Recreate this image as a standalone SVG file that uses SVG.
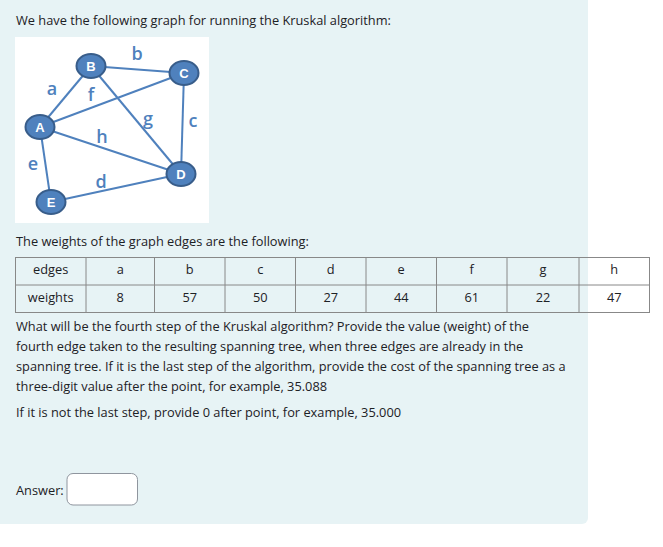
<svg xmlns="http://www.w3.org/2000/svg" width="663" height="547" viewBox="0 0 663 547">
<style>
.t{font-family:"Open Sans","Noto Sans",sans-serif;font-size:12.8px;fill:#1d2125}
.c{text-anchor:middle}
.e{stroke:#4f81bd;stroke-width:2;fill:none}
.n{fill:#4f81bd;stroke:#385d8a;stroke-width:2}
.nl{font-family:"Liberation Sans",sans-serif;font-weight:bold;font-size:13px;fill:#fff;text-anchor:middle}
.el{font-family:"Open Sans",sans-serif;font-weight:600;font-size:18px;fill:#4f81bd;text-anchor:middle}
.g{stroke:#888;stroke-width:1;fill:none}
</style>
<rect x="-8" y="-10" width="596" height="534" rx="6" fill="#e7f3f5"/>
<text class="t" x="16" y="25">We have the following graph for running the Kruskal algorithm:</text>
<rect x="15" y="37" width="194" height="186" fill="#fff"/>
<g id="connectors">
<line class="e" x1="40" y1="127" x2="91" y2="66"/>
<line class="e" x1="91" y1="66" x2="184" y2="73"/>
<line class="e" x1="184" y1="73" x2="181" y2="174"/>
<line class="e" x1="51" y1="202" x2="181" y2="174"/>
<line class="e" x1="40" y1="127" x2="51" y2="202"/>
<line class="e" x1="40" y1="127" x2="184" y2="73"/>
<line class="e" x1="91" y1="66" x2="181" y2="174"/>
<line class="e" x1="40" y1="127" x2="181" y2="174"/>
</g>
<g id="edge-labels">
<text class="el" x="137" y="60">b</text>
<text class="el" x="52" y="95">a</text>
<text class="el" x="91" y="101">f</text>
<text class="el" x="148" y="125">g</text>
<text class="el" x="193" y="127">c</text>
<text class="el" x="102" y="143">h</text>
<text class="el" x="33" y="170">e</text>
<text class="el" x="101" y="188">d</text>
</g>
<g id="node-B"><ellipse class="n" cx="91" cy="66" rx="14.5" ry="12"/><text class="nl" x="91" y="70.5">B</text></g>
<g id="node-C"><ellipse class="n" cx="184" cy="73" rx="14.5" ry="12"/><text class="nl" x="184" y="77.5">C</text></g>
<g id="node-A"><ellipse class="n" cx="40" cy="127" rx="14.5" ry="12"/><text class="nl" x="40" y="131.5">A</text></g>
<g id="node-D"><ellipse class="n" cx="181" cy="174" rx="14.5" ry="12"/><text class="nl" x="181" y="178.5">D</text></g>
<g id="node-E"><ellipse class="n" cx="51" cy="202" rx="14.5" ry="12"/><text class="nl" x="51" y="206.5">E</text></g>
<text class="t" x="16" y="246">The weights of the graph edges are the following:</text>
<g id="table">
<rect class="g" x="15.5" y="257.5" width="634" height="55"/>
<line class="g" x1="15.5" y1="285" x2="649.5" y2="285"/>
<path class="g" d="M86 257.5V312.5M154.5 257.5V312.5M225 257.5V312.5M295.5 257.5V312.5M366 257.5V312.5M436.5 257.5V312.5M507 257.5V312.5M579 257.5V312.5"/>
<text class="t c" x="50.7" y="274">edges</text>
<text class="t c" x="120.2" y="274">a</text>
<text class="t c" x="189.7" y="274">b</text>
<text class="t c" x="260.2" y="274">c</text>
<text class="t c" x="330.7" y="274">d</text>
<text class="t c" x="401.2" y="274">e</text>
<text class="t c" x="471.7" y="274">f</text>
<text class="t c" x="543" y="274">g</text>
<text class="t c" x="614.2" y="274">h</text>
<text class="t c" x="50.7" y="302">weights</text>
<text class="t c" x="120.2" y="302">8</text>
<text class="t c" x="189.7" y="302">57</text>
<text class="t c" x="260.2" y="302">50</text>
<text class="t c" x="330.7" y="302">27</text>
<text class="t c" x="401.2" y="302">44</text>
<text class="t c" x="471.7" y="302">61</text>
<text class="t c" x="543" y="302">22</text>
<text class="t c" x="614.2" y="302">47</text>
</g>
<text class="t" x="16" y="331">What will be the fourth step of the Kruskal algorithm? Provide the value (weight) of the</text>
<text class="t" x="16" y="351">fourth edge taken to the resulting spanning tree, when three edges are already in the</text>
<text class="t" x="16" y="371">spanning tree. If it is the last step of the algorithm, provide the cost of the spanning tree as a</text>
<text class="t" x="16" y="391">three-digit value after the point, for example, 35.088</text>
<text class="t" x="16" y="417">If it is not the last step, provide 0 after point, for example, 35.000</text>
<text class="t" x="16" y="495">Answer:</text>
<rect x="67" y="473.5" width="70.5" height="31.5" rx="6" fill="#fff" stroke="#8f959e" stroke-width="1"/>
</svg>
